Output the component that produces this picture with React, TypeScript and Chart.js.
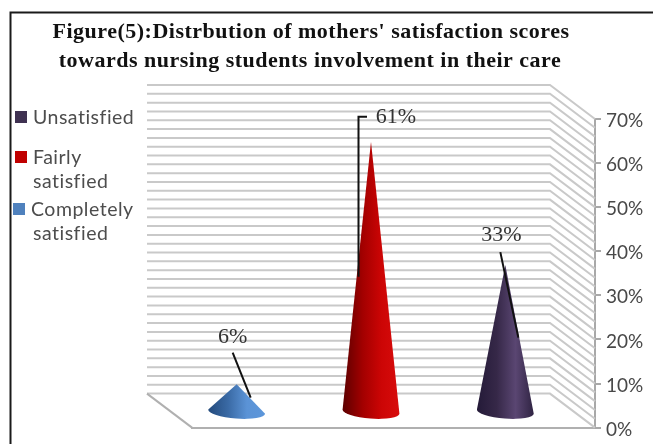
import React, { useEffect, useRef } from "react";
import { Chart, registerables } from "chart.js";

Chart.register(...registerables);

const categories = ["Completely satisfied", "Fairly satisfied", "Unsatisfied"];
const values = [6, 61, 33];
const valueLabels = ["6%", "61%", "33%"];
const titleLines = [
  "Figure(5):Distrbution of mothers' satisfaction scores",
  "towards nursing students involvement in their care",
];
const legendLabels = [
  { text: ["Unsatisfied"], color: "#3f3151", box: [15, 111], tx: 33, ty: 118 },
  { text: ["Fairly", "satisfied"], color: "#c00000", box: [15, 151], tx: 33, ty: 158 },
  { text: ["Completely", "satisfied"], color: "#4f81bd", box: [13, 203], tx: 31, ty: 210 },
];
const gradients = [
  ["#234a7c", "#3a6aa5", "#5b93d6", "#5c96da"],
  ["#5c0000", "#a20000", "#cc0505", "#d80c0c"],
  ["#241a38", "#362848", "#5a4672", "#2f2342"],
];
const minorStep = 2;
const axisMax = 70;
const DEPTH_X = 45;
const DEPTH_Y = 34;

const threeD = {
  id: "threeD",
  beforeDatasetsDraw(chart: any) {
    const { ctx, scales, chartArea } = chart;
    const y = scales.y;
    const { left, right } = chartArea;
    ctx.save();
    ctx.lineWidth = 2;
    ctx.strokeStyle = "#c9c9c9";
    for (let v = 0; v <= axisMax; v += minorStep) {
      const py = y.getPixelForValue(v);
      ctx.beginPath();
      ctx.moveTo(left - DEPTH_X, py - DEPTH_Y);
      ctx.lineTo(right - DEPTH_X, py - DEPTH_Y);
      ctx.lineTo(right, py);
      ctx.stroke();
    }
    const p0 = y.getPixelForValue(0);
    ctx.strokeStyle = "#b0b0b0";
    ctx.beginPath();
    ctx.moveTo(left - DEPTH_X, p0 - DEPTH_Y);
    ctx.lineTo(left, p0);
    ctx.stroke();
    ctx.restore();
  },
  afterDatasetsDraw(chart: any) {
    const { ctx, scales } = chart;
    const y = scales.y;
    const meta = chart.getDatasetMeta(0);
    const base = y.getPixelForValue(0);
    const tilt = 0.075;
    const rx = 28.5;
    const ry = 7;
    meta.data.forEach((bar: any, i: number) => {
      const cx = bar.x - DEPTH_X / 2;
      const ax = cx;
      const ay = bar.y - DEPTH_Y / 2;
      const by = base - DEPTH_Y / 2 + 1;
      const g = ctx.createLinearGradient(cx - rx, 0, cx + rx, 0);
      const stops = gradients[i];
      stops.forEach((c: string, k: number) => {
        g.addColorStop([0, 0.35, 0.68, 1][k], c);
      });
      ctx.save();
      ctx.beginPath();
      ctx.moveTo(ax, ay);
      ctx.lineTo(cx - rx * Math.cos(tilt), by - rx * Math.sin(tilt));
      ctx.ellipse(cx, by, rx, ry, tilt, Math.PI, 0, true);
      ctx.closePath();
      ctx.fillStyle = g;
      ctx.fill();
      ctx.restore();
    });

    // leader lines and value labels, placed relative to each cone's tip
    const tips = meta.data.map((bar: any) => ({
      x: bar.x - DEPTH_X / 2,
      y: bar.y - DEPTH_Y / 2,
    }));
    ctx.save();
    ctx.strokeStyle = "#111";
    ctx.lineWidth = 2;
    const leaders = [
      [[-4, -31.5], [14, 13.5]],
      [[-4, -25], [-12.5, -25], [-12.5, 135]],
      [[-5, -13], [13, 72.5]],
    ];
    leaders.forEach((pts, i) => {
      ctx.beginPath();
      pts.forEach((p, k) => {
        if (k === 0) ctx.moveTo(tips[i].x + p[0], tips[i].y + p[1]);
        else ctx.lineTo(tips[i].x + p[0], tips[i].y + p[1]);
      });
      ctx.stroke();
    });
    ctx.font = "22px 'Liberation Serif'";
    ctx.fillStyle = "#333";
    ctx.textAlign = "center";
    ctx.textBaseline = "middle";
    const labelOffsets = [
      [-4, -46.5],
      [25, -24],
      [-4, -30],
    ];
    valueLabels.forEach((t, i) => {
      ctx.fillText(t, tips[i].x + labelOffsets[i][0], tips[i].y + labelOffsets[i][1]);
    });
    ctx.restore();
  },
  afterDraw(chart: any) {
    const { ctx, width, height } = chart;
    ctx.save();
    // frame: only the top and left edges fall inside the picture
    ctx.strokeStyle = "#1a1a1a";
    ctx.lineWidth = 2;
    ctx.beginPath();
    ctx.moveTo(width, 12.5);
    ctx.lineTo(10.5, 12.5);
    ctx.lineTo(10.5, height);
    ctx.stroke();
    // title
    ctx.fillStyle = "#111";
    ctx.textAlign = "center";
    ctx.textBaseline = "alphabetic";
    ctx.font = "bold 22px 'Liberation Serif'";
    ctx.letterSpacing = "0.5px";
    ctx.fillText(titleLines[0], 311, 38);
    ctx.fillText(titleLines[1], 310, 66.5);
    // legend
    ctx.textAlign = "left";
    ctx.textBaseline = "middle";
    ctx.font = "19.5px Lato";
    ctx.letterSpacing = "0.5px";
    legendLabels.forEach((l) => {
      ctx.fillStyle = l.color;
      ctx.fillRect(l.box[0], l.box[1], 12, 12);
      ctx.fillStyle = "#4d4d4d";
      l.text.forEach((t, k) => {
        ctx.fillText(t, k === 0 ? l.tx : 33, l.ty + k * 24);
      });
    });
    ctx.restore();
  },
};

export default function App() {
  const ref = useRef<HTMLCanvasElement>(null);
  useEffect(() => {
    document.body.style.margin = "0";
    const chart = new Chart(ref.current!, {
      type: "bar",
      data: {
        labels: categories,
        datasets: [{ data: values, backgroundColor: "transparent", borderWidth: 0 }],
      },
      plugins: [threeD],
      options: {
        responsive: false,
        animation: false,
        layout: { padding: { left: 192, top: 119, right: 0, bottom: 0 } },
        plugins: { legend: { display: false }, title: { display: false }, tooltip: { enabled: false } },
        scales: {
          x: {
            ticks: { display: false },
            grid: { display: false, drawTicks: false },
            border: { display: true, color: "#b0b0b0", width: 2 },
            afterFit: (s: any) => {
              s.height = 16;
            },
          },
          y: {
            position: "right",
            min: 0,
            max: axisMax,
            ticks: {
              stepSize: 10,
              color: "#484848",
              padding: 5,
              labelOffset: 2,
              font: { family: "Lato", size: 19 },
              callback: (v: any) => `${v}%`,
            },
            grid: { drawOnChartArea: false, color: "#a8a8a8", tickLength: 6, lineWidth: 2 },
            border: { display: true, color: "#a8a8a8", width: 2 },
            afterFit: (s: any) => {
              s.width = 58;
            },
          },
        },
      },
    } as any);
    return () => chart.destroy();
  }, []);
  return (
    <div style={{ position: "fixed", left: 0, top: 0, width: 653, height: 444 }}>
      <canvas ref={ref} width={653} height={444} style={{ display: "block", filter: "blur(0.45px)" }} />
    </div>
  );
}
